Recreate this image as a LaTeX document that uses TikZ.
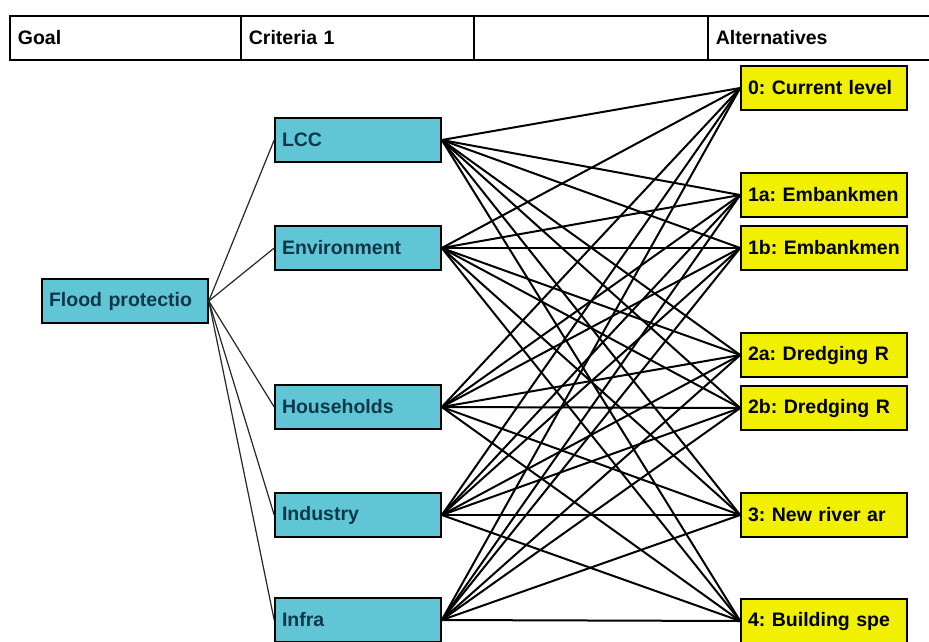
\documentclass[tikz,border=0pt]{standalone}
\usepackage{fontspec}
\setsansfont{Liberation Sans}
\usepackage{tikz}
\usetikzlibrary{positioning}
\tikzset{every picture/.style={/utils/exec={\sffamily}}}
\definecolor{CritBlue}{RGB}{96,198,214}
\definecolor{CritText}{RGB}{14,56,74}
\definecolor{AltYellow}{RGB}{240,240,0}
\frenchspacing
\hyphenpenalty=10000

\begin{document}
\begin{tikzpicture}[x=1pt, y=-1pt,
    every node/.style={font=\bfseries\fontsize{19.5}{22}\selectfont},
    crit/.style={draw=black, line width=1.6pt, fill=CritBlue, text=CritText,
        text width=152pt, align=left, inner xsep=7pt, inner ysep=0pt, minimum height=44pt},
    alt/.style={crit, fill=AltYellow, text=black},
    head/.style={draw=black, line width=1.8pt, text width=#1, align=left, inner xsep=8pt,
        inner ysep=0pt, minimum height=44pt, anchor=north west},
    goallink/.style={line width=1.2pt, black!85},
    link/.style={line width=2pt, black}]
        \useasboundingbox (0,0) rectangle (929,641);
        \clip (0,0) rectangle (929,641);

        % Header row
        \node[head=215pt] (HGoal) at (9,15) {Goal};
        \node[head=217pt] (HCrit) at (240,15) {Criteria 1};
        \node[head=218pt] (HBlank) at (473,15) {};
        \node[head=217pt] (HAlt) at (707,15) {Alternatives};

        % Goal and criteria
        \node[crit] (G) at (125,301) {Flood protectio};
        \node[crit] (LCC) at (358,140) {LCC};
        \node[crit] (Env) at (358,248) {Environment};
        \node[crit] (HH) at (358,407) {Households};
        \node[crit] (Ind) at (358,515) {Industry};
        \node[crit] (Inf) at (358,620) {Infra};

        % Alternatives
        \node[alt] (A0) at (824,88) {0: Current level};
        \node[alt] (A1a) at (824,195) {1a: Embankmen};
        \node[alt] (A1b) at (824,248) {1b: Embankmen};
        \node[alt] (A2a) at (824,355) {2a: Dredging R};
        \node[alt] (A2b) at (824,408) {2b: Dredging R};
        \node[alt] (A3) at (824,515) {3: New river ar};
        \node[alt] (A4) at (824,621) {4: Building spe};

        % Goal to criteria
        \draw[goallink] (G.east) edge (LCC.west) edge (Env.west) edge (HH.west)
            edge (Ind.west) edge (Inf.west);

        % Criteria to alternatives
        \draw[link] (LCC.east) edge (A0.west) edge (A1a.west) edge (A1b.west)
            edge (A2a.west) edge (A2b.west) edge (A3.west) edge (A4.west);
        \draw[link] (Env.east) edge (A0.west) edge (A1a.west) edge (A1b.west)
            edge (A2a.west) edge (A2b.west) edge (A3.west) edge (A4.west);
        \draw[link] (HH.east) edge (A0.west) edge (A1a.west) edge (A1b.west)
            edge (A2a.west) edge (A2b.west) edge (A3.west) edge (A4.west);
        \draw[link] (Ind.east) edge (A0.west) edge (A1a.west) edge (A1b.west)
            edge (A2a.west) edge (A2b.west) edge (A3.west) edge (A4.west);
        \draw[link] (Inf.east) edge (A0.west) edge (A1a.west) edge (A1b.west)
            edge (A2a.west) edge (A2b.west) edge (A3.west) edge (A4.west);
    \end{tikzpicture}
\end{document}
